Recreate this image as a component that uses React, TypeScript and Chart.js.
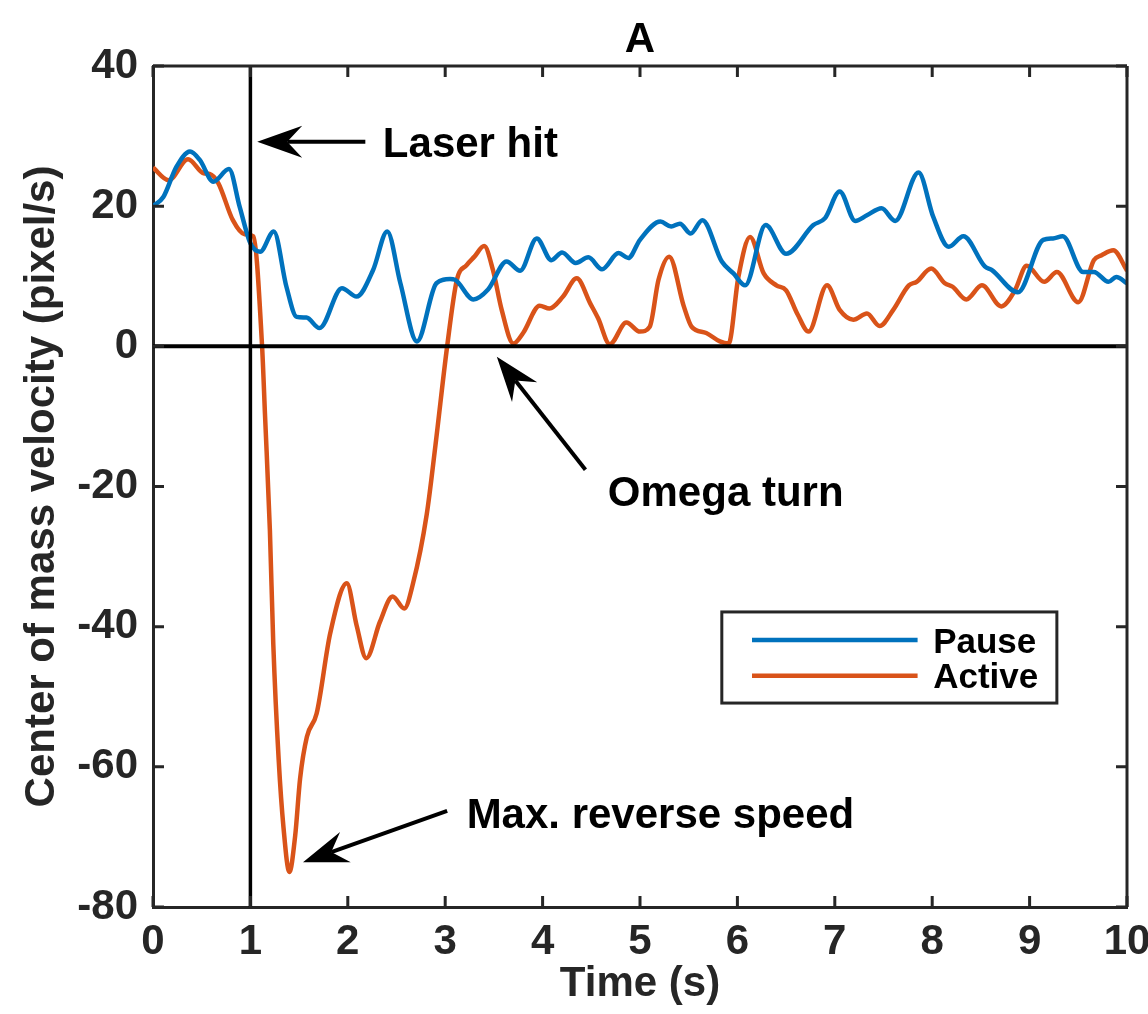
import React, { useEffect, useRef } from "react";
import { Chart, registerables } from "chart.js";

Chart.register(...registerables);

// ---------- data ----------
const pauseT = [0, 0.106, 0.24, 0.38, 0.48, 0.62, 0.78, 0.89, 1.0, 1.1, 1.24, 1.37, 1.475, 1.575, 1.71, 1.94, 2.09, 2.26, 2.405, 2.54, 2.71, 2.91, 3.05, 3.1, 3.29, 3.44, 3.63, 3.77, 3.94, 4.09, 4.2, 4.34, 4.47, 4.61, 4.78, 4.88, 5.0, 5.21, 5.32, 5.41, 5.52, 5.64, 5.84, 5.96, 6.08, 6.29, 6.5, 6.78, 6.9, 7.05, 7.21, 7.33, 7.48, 7.62, 7.86, 8.01, 8.17, 8.32, 8.54, 8.61, 8.88, 9.14, 9.24, 9.34, 9.55, 9.66, 9.81, 9.89, 10.0];
const pauseV = [20.0, 21.3, 25.6, 27.8, 26.6, 23.5, 25.3, 19.9, 14.7, 13.5, 16.4, 8.5, 4.2, 4.1, 2.6, 8.3, 7.1, 10.9, 16.4, 9.0, 0.7, 9.0, 9.6, 9.5, 6.7, 8.1, 12.1, 10.8, 15.4, 12.3, 13.4, 11.9, 12.7, 11.0, 13.3, 12.6, 15.2, 17.8, 17.1, 17.5, 16.1, 18.0, 12.1, 10.4, 8.7, 17.3, 13.2, 17.3, 18.3, 22.1, 17.9, 18.7, 19.7, 17.9, 24.8, 18.5, 14.2, 15.7, 11.4, 10.9, 7.7, 15.2, 15.4, 15.7, 10.6, 10.6, 9.2, 9.9, 9.0];

const activeT = [0, 0.16, 0.36, 0.52, 0.58, 0.67, 0.82, 0.94, 1.03, 1.12, 1.15, 1.2, 1.235, 1.29, 1.34, 1.4, 1.46, 1.51, 1.58, 1.68, 1.82, 1.99, 2.09, 2.19, 2.33, 2.46, 2.58, 2.67, 2.81, 2.9, 3.02, 3.12, 3.22, 3.3, 3.4, 3.49, 3.58, 3.7, 3.8, 3.97, 4.07, 4.21, 4.35, 4.49, 4.57, 4.69, 4.86, 5.0, 5.1, 5.19, 5.3, 5.45, 5.53, 5.68, 5.82, 5.91, 6.01, 6.13, 6.27, 6.4, 6.5, 6.62, 6.73, 6.92, 7.05, 7.19, 7.33, 7.46, 7.6, 7.76, 7.84, 7.99, 8.13, 8.21, 8.35, 8.51, 8.71, 8.85, 8.97, 9.15, 9.28, 9.5, 9.66, 9.74, 9.86, 10.0];
const activeV = [25.5, 23.7, 26.7, 24.7, 24.6, 23.3, 18.0, 16.0, 15.7, 0, -9.8, -26.2, -42.5, -58.9, -68.7, -75.0, -69.8, -61.7, -55.7, -52.4, -40.9, -33.8, -39.8, -44.5, -39.3, -35.7, -37.4, -33.8, -24.0, -14.1, 0, 9.5, 11.6, 12.8, 14.3, 10.9, 5.2, 0.4, 1.9, 5.8, 5.4, 7.1, 9.7, 6.1, 4.0, 0.3, 3.4, 2.1, 2.8, 9.5, 12.8, 5.7, 2.8, 1.9, 0.7, 0.4, 9.9, 15.6, 10.4, 8.7, 8.0, 4.5, 2.1, 8.7, 5.2, 3.8, 4.7, 2.9, 5.2, 8.7, 9.2, 11.1, 9.0, 8.5, 6.7, 8.7, 5.7, 8.0, 11.5, 9.2, 10.6, 6.3, 12.3, 13.0, 13.7, 10.8];

const seriesLabels = ["Pause", "Active"];
const seriesColors = ["#0072BD", "#D95319"];
const xTicks = [0, 1, 2, 3, 4, 5, 6, 7, 8, 9, 10];
const yTicks = [-80, -60, -40, -20, 0, 20, 40];
const titleText = "A";
const xTitle = "Time (s)";
const yTitle = "Center of mass velocity (pixel/s)";
const laserTime = 1.0;

const annotationTexts = ["Laser hit", "Omega turn", "Max. reverse speed"];
const annotationTips = [[1.07, 29.2], [3.53, -1.5], [1.54, -73.6]];
const annotationTails = [[2.18, 29.2], [4.44, -17.6], [3.02, -66.3]];
const annotationTextAt = [[2.36, 27.0], [4.67, -22.8], [3.22, -68.7]];

// legend box (data units): left, right, top, bottom
const legendBox = [5.84, 9.28, -37.9, -50.9];
const legendLineX = [6.15, 7.85];
const legendLineY = [-41.9, -47.0];
const legendTextX = 8.01;
const legendTextY = [-43.7, -48.7];

const FONT = '"Liberation Sans", Arial, Helvetica, sans-serif';
const AXIS_COLOR = "#262626";

function toPoints(ts: number[], vs: number[]) {
  return ts.map((t, i) => ({ x: t, y: vs[i] }));
}

function drawArrow(ctx: CanvasRenderingContext2D, x0: number, y0: number, x1: number, y1: number) {
  const dx = x1 - x0;
  const dy = y1 - y0;
  const len = Math.hypot(dx, dy);
  const ux = dx / len;
  const uy = dy / len;
  const px = -uy;
  const py = ux;
  const headLen = 45;
  const notch = 30;
  const hw = 16;
  ctx.save();
  ctx.strokeStyle = "#000";
  ctx.fillStyle = "#000";
  ctx.lineWidth = 4;
  ctx.beginPath();
  ctx.moveTo(x0, y0);
  ctx.lineTo(x1 - ux * notch, y1 - uy * notch);
  ctx.stroke();
  ctx.beginPath();
  ctx.moveTo(x1, y1);
  ctx.lineTo(x1 - ux * headLen + px * hw, y1 - uy * headLen + py * hw);
  ctx.lineTo(x1 - ux * notch, y1 - uy * notch);
  ctx.lineTo(x1 - ux * headLen - px * hw, y1 - uy * headLen - py * hw);
  ctx.closePath();
  ctx.fill();
  ctx.restore();
}

const overlayPlugin = {
  id: "overlay",
  afterDatasetsDraw(chart: any) {
    const ctx: CanvasRenderingContext2D = chart.ctx;
    const ca = chart.chartArea;
    const xs = chart.scales.x;
    const ys = chart.scales.y;
    const X = (v: number) => xs.getPixelForValue(v);
    const Y = (v: number) => ys.getPixelForValue(v);

    ctx.save();
    // reference lines
    ctx.strokeStyle = "#000";
    ctx.lineWidth = 4;
    ctx.beginPath();
    ctx.moveTo(ca.left, Y(0));
    ctx.lineTo(ca.right, Y(0));
    ctx.stroke();
    ctx.lineWidth = 3.5;
    ctx.beginPath();
    ctx.moveTo(X(laserTime), ca.top);
    ctx.lineTo(X(laserTime), ca.bottom);
    ctx.stroke();

    // box top/right
    ctx.strokeStyle = AXIS_COLOR;
    ctx.lineWidth = 3;
    ctx.beginPath();
    ctx.moveTo(ca.left, ca.top);
    ctx.lineTo(ca.right, ca.top);
    ctx.moveTo(ca.right, ca.top);
    ctx.lineTo(ca.right, ca.bottom);
    ctx.stroke();

    // inward ticks
    const tl = 11;
    ctx.beginPath();
    xTicks.forEach((v) => {
      const px = X(v);
      ctx.moveTo(px, ca.bottom);
      ctx.lineTo(px, ca.bottom - tl);
      ctx.moveTo(px, ca.top);
      ctx.lineTo(px, ca.top + tl);
    });
    yTicks.forEach((v) => {
      const py = Y(v);
      ctx.moveTo(ca.left, py);
      ctx.lineTo(ca.left + tl, py);
      ctx.moveTo(ca.right, py);
      ctx.lineTo(ca.right - tl, py);
    });
    ctx.stroke();

    // title
    ctx.fillStyle = "#000";
    ctx.font = `bold 42px ${FONT}`;
    ctx.textAlign = "center";
    ctx.textBaseline = "alphabetic";
    ctx.fillText(titleText, (ca.left + ca.right) / 2, ca.top - 14);

    // annotations
    ctx.textAlign = "left";
    annotationTexts.forEach((txt, i) => {
      drawArrow(ctx, X(annotationTails[i][0]), Y(annotationTails[i][1]), X(annotationTips[i][0]), Y(annotationTips[i][1]));
      ctx.fillStyle = "#000";
      ctx.font = `bold 42px ${FONT}`;
      ctx.fillText(txt, X(annotationTextAt[i][0]), Y(annotationTextAt[i][1]));
    });

    // legend
    const lx0 = X(legendBox[0]);
    const lx1 = X(legendBox[1]);
    const ly0 = Y(legendBox[2]);
    const ly1 = Y(legendBox[3]);
    ctx.fillStyle = "#fff";
    ctx.fillRect(lx0, ly0, lx1 - lx0, ly1 - ly0);
    ctx.strokeStyle = AXIS_COLOR;
    ctx.lineWidth = 3;
    ctx.strokeRect(lx0, ly0, lx1 - lx0, ly1 - ly0);
    seriesLabels.forEach((lab, i) => {
      ctx.strokeStyle = seriesColors[i];
      ctx.lineWidth = 4.5;
      ctx.beginPath();
      ctx.moveTo(X(legendLineX[0]), Y(legendLineY[i]));
      ctx.lineTo(X(legendLineX[1]), Y(legendLineY[i]));
      ctx.stroke();
      ctx.fillStyle = "#000";
      ctx.font = `bold 35px ${FONT}`;
      ctx.textAlign = "left";
      ctx.textBaseline = "alphabetic";
      ctx.fillText(lab, X(legendTextX), Y(legendTextY[i]));
    });
    ctx.restore();
  },
};

export default function App() {
  const ref = useRef<HTMLCanvasElement | null>(null);

  useEffect(() => {
    document.body.style.margin = "0";
    const canvas = ref.current;
    if (!canvas) return;
    const tickFont = { family: FONT, size: 42, weight: "bold" as const, lineHeight: 1.2 };
    const chart = new Chart(canvas, {
      type: "line",
      data: {
        datasets: [
          {
            label: seriesLabels[0],
            data: toPoints(pauseT, pauseV),
            borderColor: seriesColors[0],
            backgroundColor: seriesColors[0],
            borderWidth: 4.5,
            pointRadius: 0,
            cubicInterpolationMode: "monotone",
            fill: false,
          },
          {
            label: seriesLabels[1],
            data: toPoints(activeT, activeV),
            borderColor: seriesColors[1],
            backgroundColor: seriesColors[1],
            borderWidth: 4.5,
            pointRadius: 0,
            cubicInterpolationMode: "monotone",
            fill: false,
          },
        ],
      },
      options: {
        animation: false,
        responsive: false,
        maintainAspectRatio: false,
        devicePixelRatio: 1,
        layout: { padding: { top: 66, right: 21, bottom: 0, left: 0 } },
        plugins: {
          legend: { display: false },
          title: { display: false },
          tooltip: { enabled: false },
        },
        scales: {
          x: {
            type: "linear",
            position: "bottom",
            min: 0,
            max: 10,
            afterBuildTicks: (s: any) => {
              s.ticks = xTicks.map((v) => ({ value: v }));
            },
            afterFit: (s: any) => {
              s.height = 107;
              s.paddingLeft = 0;
              s.paddingRight = 0;
            },
            ticks: {
              font: tickFont,
              color: AXIS_COLOR,
              padding: 10,
              maxRotation: 0,
              autoSkip: false,
            },
            grid: { display: false, drawTicks: false },
            border: { display: true, color: AXIS_COLOR, width: 3 },
            title: {
              display: true,
              text: xTitle,
              color: AXIS_COLOR,
              font: tickFont,
              padding: { top: 0, bottom: 4 },
            },
          },
          y: {
            type: "linear",
            position: "left",
            min: -80,
            max: 40,
            afterBuildTicks: (s: any) => {
              s.ticks = yTicks.map((v) => ({ value: v }));
            },
            afterFit: (s: any) => {
              s.width = 153;
              s.paddingTop = 0;
              s.paddingBottom = 0;
            },
            ticks: {
              font: tickFont,
              color: AXIS_COLOR,
              padding: 15,
              autoSkip: false,
            },
            grid: { display: false, drawTicks: false },
            border: { display: true, color: AXIS_COLOR, width: 3 },
            title: {
              display: true,
              text: yTitle,
              color: AXIS_COLOR,
              font: tickFont,
              padding: { top: 17, bottom: 0 },
            },
          },
        },
      },
      plugins: [overlayPlugin],
    });
    return () => chart.destroy();
  }, []);

  return (
    <div style={{ width: 1148, height: 1014 }}>
      <canvas ref={ref} width={1148} height={1014} style={{ width: 1148, height: 1014, display: "block" }} />
    </div>
  );
}
